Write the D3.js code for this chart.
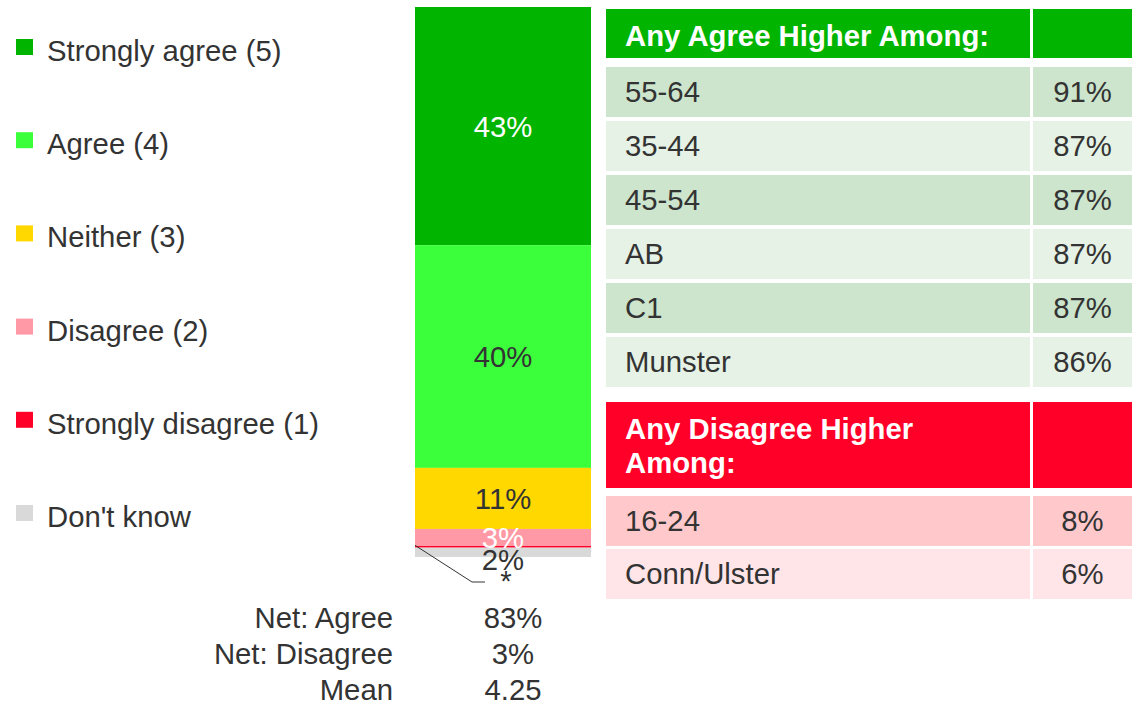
<!DOCTYPE html>
<html><head><meta charset="utf-8">
<script src="https://cdn.jsdelivr.net/npm/d3@7"></script>
<style>
html,body{margin:0;padding:0;background:#fff;}
svg{display:block;font-family:"Liberation Sans",Arial,sans-serif;}
</style></head>
<body><svg id="c" width="1132" height="706"></svg>
<script>
const categories = ["Strongly agree (5)","Agree (4)","Neither (3)","Disagree (2)","Strongly disagree (1)","Don't know"];
const values = [43.3, 40.5, 11.1, 3.1, 0.3, 1.7];
const valueLabels = ["43%","40%","11%","3%","*","2%"];
const colors = ["#00B400","#3CFF3C","#FFD800","#FF99A6","#FF0028","#D9D9D9"];
const labelColors = ["#ffffff","#333333","#333333","#ffffff","#333333","#333333"];

const statLabels = ["Net: Agree","Net: Disagree","Mean"];
const statValues = ["83%","3%","4.25"];

const agreeHeader = "Any Agree Higher Among:";
const agreeGroups = ["55-64","35-44","45-54","AB","C1","Munster"];
const agreeValues = ["91%","87%","87%","87%","87%","86%"];
const disagreeHeader = ["Any Disagree Higher","Among:"];
const disagreeGroups = ["16-24","Conn/Ulster"];
const disagreeValues = ["8%","6%"];

const svg = d3.select("#c");
const FS = 29.3, TXT = "#333333";

// Legend
const ly = d3.scalePoint().domain(categories).range([51, 517]);
const lg = svg.append("g");
categories.forEach((c,i)=>{
  lg.append("rect").attr("x",16).attr("y",ly(c)-12).attr("width",17).attr("height",16).attr("fill",colors[i]);
  lg.append("text").attr("x",47).attr("y",ly(c)+10).attr("font-size",FS).attr("fill",TXT).text(c);
});

// Stacked bar
const y = d3.scaleLinear().domain([0,100]).range([7,557]);
const x0 = 415, x1 = 591;
let cum = 0;
const segs = values.map((v,i)=>{ const s={i, a:cum, b:cum+v}; cum+=v; return s; });
const bar = svg.append("g");
bar.selectAll("rect").data(segs).join("rect")
  .attr("x",x0).attr("width",x1-x0)
  .attr("y",d=>y(d.a)).attr("height",d=>y(d.b)-y(d.a))
  .attr("fill",d=>colors[d.i]);
segs.forEach(d=>{
  const mid = (y(d.a)+y(d.b))/2;
  if (d.i===4) {
    const yy = mid;
    bar.append("path").attr("d",`M${x0},${yy-1.5} L472,582 L485,582`).attr("fill","none").attr("stroke","#333").attr("stroke-width",1);
    bar.append("text").attr("x",506).attr("y",591).attr("text-anchor","middle").attr("font-size",FS).attr("fill",TXT).text(valueLabels[d.i]);
    return;
  }
  const dy = d.i===5 ? 18 : 10.5;
  bar.append("text").attr("x",(x0+x1)/2).attr("y",mid+dy).attr("text-anchor","middle")
    .attr("font-size",FS).attr("fill",labelColors[d.i]).text(valueLabels[d.i]);
});

// Stats
const sy = d3.scalePoint().domain(statLabels).range([628,700]);
statLabels.forEach((s,i)=>{
  svg.append("text").attr("x",393).attr("y",sy(s)).attr("text-anchor","end").attr("font-size",FS).attr("fill",TXT).text(s);
  svg.append("text").attr("x",513).attr("y",sy(s)).attr("text-anchor","middle").attr("font-size",FS).attr("fill",TXT).text(statValues[i]);
});

// Tables
const c1a=606, c1b=1030, c2a=1033, c2b=1132;
const tg = svg.append("g");
function headerRow(top,h,fill,lines){
  tg.append("rect").attr("x",c1a).attr("y",top).attr("width",c1b-c1a).attr("height",h).attr("fill",fill);
  tg.append("rect").attr("x",c2a).attr("y",top).attr("width",c2b-c2a).attr("height",h).attr("fill",fill);
  lines.forEach((l,k)=>{
    tg.append("text").attr("x",625).attr("y",top+37+k*34).attr("font-size",FS).attr("font-weight","bold").attr("fill","#fff").text(l);
  });
}
function bodyRows(top,step,h,groups,vals,fills){
  groups.forEach((g,i)=>{
    const t = top+i*step;
    tg.append("rect").attr("x",c1a).attr("y",t).attr("width",c1b-c1a).attr("height",h).attr("fill",fills[i%2]);
    tg.append("rect").attr("x",c2a).attr("y",t).attr("width",c2b-c2a).attr("height",h).attr("fill",fills[i%2]);
    tg.append("text").attr("x",625).attr("y",t+h/2+10).attr("font-size",FS).attr("fill",TXT).text(g);
    tg.append("text").attr("x",(c2a+c2b)/2).attr("y",t+h/2+10).attr("text-anchor","middle").attr("font-size",FS).attr("fill",TXT).text(vals[i]);
  });
}
headerRow(9,49,"#00B400",[agreeHeader]);
bodyRows(67,54,50,agreeGroups,agreeValues,["#CCE5CC","#E5F2E5"]);
headerRow(402,86,"#FF0028",disagreeHeader);
bodyRows(496,53,50,disagreeGroups,disagreeValues,["#FFC9CC","#FFE5E8"]);
</script></body></html>
